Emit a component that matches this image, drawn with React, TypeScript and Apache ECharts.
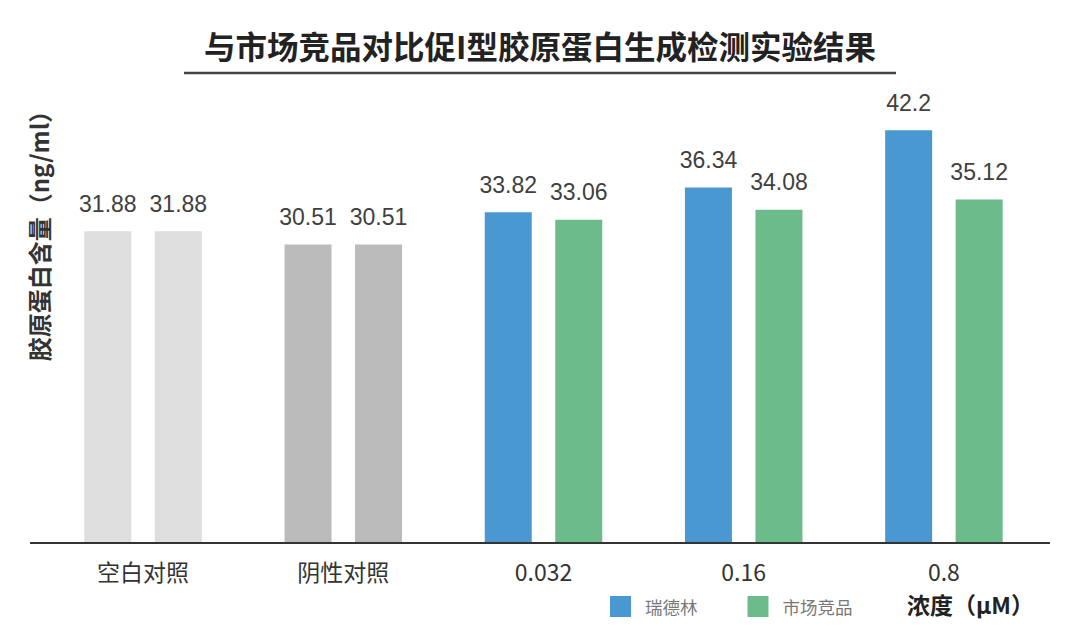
import React, { useEffect, useRef } from "react";
import * as echarts from "echarts";

const categories = ["空白对照", "阴性对照", "0.032", "0.16", "0.8"];
const seriesNames = ["瑞德林", "市场竞品"];
const ruidelinValues = [31.88, 30.51, 33.82, 36.34, 42.2];
const competitorValues = [31.88, 30.51, 33.06, 34.08, 35.12];
const chartTitle = "与市场竞品对比促I型胶原蛋白生成检测实验结果";
const yAxisTitle = "胶原蛋白含量（ng/ml）";
const xAxisTitle = "浓度（μM）";

const BLUE = "#4a98d2";
const GREEN = "#6bbc8a";
const CONTROL_COLORS = ["#dedede", "#bbbbbb"];
const FONT = 'Arial, "Liberation Sans", "Noto Sans CJK SC", sans-serif';

function toData(values: number[]) {
  return values.map((v, i) =>
    i < CONTROL_COLORS.length
      ? { value: v, itemStyle: { color: CONTROL_COLORS[i] } }
      : { value: v }
  );
}

export default function App() {
  const ref = useRef<HTMLDivElement>(null);

  useEffect(() => {
    if (!ref.current) return;
    const chart = echarts.init(ref.current, undefined, { renderer: "svg" });
    const label = {
      show: true,
      position: "top",
      distance: 16,
      fontSize: 23,
      color: "#404040",
      fontFamily: FONT,
    };
    chart.setOption({
      animation: false,
      backgroundColor: "#ffffff",
      title: {
        text: chartTitle,
        left: "center",
        top: 24,
        textStyle: {
          fontSize: 31.5,
          fontWeight: "bold",
          color: "#222222",
          fontFamily: '"Noto Sans CJK SC", sans-serif',
        },
      },
      legend: {
        data: seriesNames,
        left: 610,
        top: 596,
        padding: 0,
        icon: "rect",
        itemWidth: 21,
        itemHeight: 21,
        itemGap: 50,
        textStyle: {
          fontSize: 17.5,
          color: "#777777",
          padding: [0, 0, 0, 9],
          fontFamily: '"Noto Sans CJK SC", sans-serif',
        },
      },
      grid: { left: 43, right: 36, top: 54, bottom: 90 },
      xAxis: {
        type: "category",
        data: categories,
        axisLine: { show: false },
        axisTick: { show: false },
        axisLabel: {
          fontSize: 23,
          color: "#333333",
          margin: 16,
          fontFamily: '"Noto Sans CJK SC", Arial, sans-serif',
        },
      },
      yAxis: {
        type: "value",
        min: 0,
        max: 50,
        show: false,
      },
      graphic: [
        {
          type: "line",
          shape: { x1: 184, y1: 73, x2: 896, y2: 73 },
          style: { stroke: "#444444", lineWidth: 2.5 },
        },
        {
          type: "line",
          shape: { x1: 30, y1: 543, x2: 1050, y2: 543 },
          style: { stroke: "#333333", lineWidth: 2 },
          z: 10,
        },
        {
          type: "text",
          x: 38,
          y: 230,
          rotation: Math.PI / 2,
          style: {
            text: yAxisTitle,
            fontSize: 24,
            fontWeight: "bold",
            fill: "#333333",
            align: "center",
            verticalAlign: "middle",
            fontFamily: '"Noto Sans CJK SC", sans-serif',
          },
        },
        {
          type: "text",
          x: 907,
          y: 604,
          style: {
            text: xAxisTitle,
            fontSize: 23,
            fontWeight: "bold",
            fill: "#222222",
            align: "left",
            verticalAlign: "middle",
            fontFamily: '"Noto Sans CJK SC", sans-serif',
          },
        },
      ],
      series: [
        {
          name: seriesNames[0],
          type: "bar",
          barWidth: 47,
          barGap: "50%",
          itemStyle: { color: BLUE },
          label,
          data: toData(ruidelinValues),
        },
        {
          name: seriesNames[1],
          type: "bar",
          barWidth: 47,
          barGap: "50%",
          itemStyle: { color: GREEN },
          label,
          data: toData(competitorValues),
        },
      ],
    });
    return () => chart.dispose();
  }, []);

  return (
    <div
      ref={ref}
      style={{ position: "fixed", left: 0, top: 0, width: 1080, height: 633 }}
    />
  );
}
